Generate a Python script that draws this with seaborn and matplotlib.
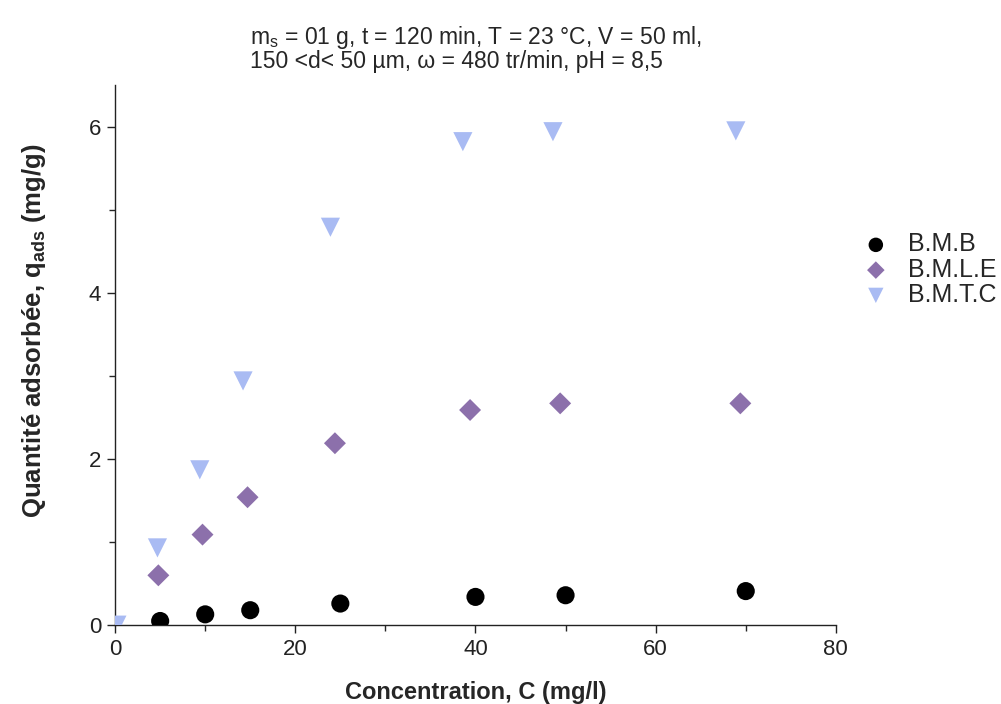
import numpy as np
import pandas as pd
import matplotlib
matplotlib.use("Agg")
import matplotlib.pyplot as plt
from matplotlib.ticker import MultipleLocator
import seaborn as sns

# Data
x_bmb = [5.0, 10.0, 15.0, 25.0, 40.0, 50.0, 70.0]
y_bmb = [0.05, 0.13, 0.18, 0.26, 0.34, 0.36, 0.41]
x_bmle = [4.8, 9.7, 14.7, 24.4, 39.4, 49.4, 69.4]
y_bmle = [0.60, 1.09, 1.54, 2.19, 2.59, 2.67, 2.67]
x_bmtc = [0.2, 4.7, 9.4, 14.2, 23.9, 38.6, 48.6, 68.9]
y_bmtc = [0.0, 0.93, 1.87, 2.94, 4.79, 5.82, 5.94, 5.95]
series = ["B.M.B", "B.M.L.E", "B.M.T.C"]

df = pd.concat([
    pd.DataFrame({"C": x_bmb, "q": y_bmb, "s": series[0]}),
    pd.DataFrame({"C": x_bmle, "q": y_bmle, "s": series[1]}),
    pd.DataFrame({"C": x_bmtc, "q": y_bmtc, "s": series[2]}),
], ignore_index=True)

sns.set_style("ticks")
plt.rcParams['font.family'] = ['Liberation Sans', 'DejaVu Sans']
plt.rcParams['mathtext.fontset'] = 'custom'
plt.rcParams['mathtext.rm'] = 'Liberation Sans'
plt.rcParams['mathtext.bf'] = 'Liberation Sans:bold'

fig = plt.figure(figsize=(10.01, 7.04), dpi=100)
ax = fig.add_axes([0.115, 0.112, 0.72, 0.767])

palette = {"B.M.B": "#000000", "B.M.L.E": "#8c70ab", "B.M.T.C": "#a9bbf3"}
markers = {"B.M.B": "o", "B.M.L.E": "D", "B.M.T.C": "v"}
sizes = {"B.M.B": 170, "B.M.L.E": 125, "B.M.T.C": 190}

for name in series:
    sub = df[df["s"] == name]
    sns.scatterplot(data=sub, x="C", y="q", ax=ax, color=palette[name],
                    marker=markers[name], s=sizes[name], edgecolor="none",
                    label=name, clip_on=True, zorder=3)

ax.set_xlim(0, 80)
ax.set_ylim(0, 6.5)
ax.xaxis.set_major_locator(MultipleLocator(20))
ax.xaxis.set_minor_locator(MultipleLocator(10))
ax.yaxis.set_major_locator(MultipleLocator(2))
ax.yaxis.set_minor_locator(MultipleLocator(1))
ax.tick_params(which="major", direction="out", length=6, width=1, labelsize=16,
               colors="#222222", pad=4)
ax.tick_params(which="minor", direction="out", length=4, width=1)
sns.despine(ax=ax)
for sp in ["left", "bottom"]:
    ax.spines[sp].set_linewidth(1.0)
    ax.spines[sp].set_color("#222222")

ax.set_xlabel("Concentration, C (mg/l)", fontsize=17, fontweight="bold", labelpad=15)
ax.set_ylabel(r"Quantité adsorbée, q$_{\mathbf{ads}}$ (mg/g)", fontsize=18.5,
              fontweight="bold")
ax.yaxis.set_label_coords(-0.093, 0.546)

fig.text(0.25, 0.947, r"m$_{\mathrm{s}}$ = 01 g, t = 120 min, T = 23 °C, V = 50 ml,",
         ha="left", va="center", fontsize=16.5)
fig.text(0.25, 0.912, "150 <d< 50 µm, ω = 480 tr/min, pH = 8,5",
         ha="left", va="center", fontsize=16.5)

leg = ax.legend(loc="upper left", bbox_to_anchor=(1.0, 0.769), frameon=False,
                fontsize=18, handletextpad=0.6, labelspacing=0.05,
                borderaxespad=0.5, handlelength=1.4, markerscale=0.8)

fig.savefig("out.png", dpi=100, facecolor="white")
